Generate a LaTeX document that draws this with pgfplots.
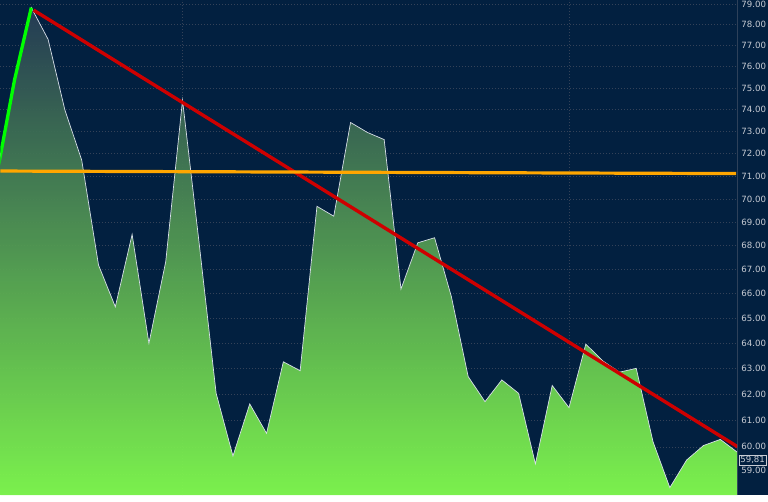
\documentclass[border=0pt]{standalone}
\usepackage{pgfplots}
\pgfplotsset{compat=1.18}
\usepackage{pgfplotstable}
\usepackage{fontspec}
\setmainfont{DejaVu Sans}
\definecolor{navy}{RGB}{2,32,64}
\definecolor{gridgray}{RGB}{52,66,88}
\definecolor{axisgray}{RGB}{70,84,104}
\definecolor{labelgray}{RGB}{200,204,212}
\definecolor{areatop}{RGB}{38,60,86}
\definecolor{areamid}{RGB}{96,142,108}
\definecolor{areabot}{RGB}{130,252,78}
\definecolor{edgewhite}{RGB}{215,222,232}
\definecolor{trendgreen}{RGB}{0,255,0}
\definecolor{trendred}{RGB}{206,0,0}
\definecolor{trendorange}{RGB}{255,166,0}
\pgfplotstableread{
x y
0 71.26
1 75.36
2 78.85
3 77.29
4 73.97
5 71.71
6 67.18
7 65.46
8 68.47
9 63.99
10 67.32
11 74.43
12 68.02
13 62.03
14 59.66
15 61.62
16 60.51
17 63.26
18 62.91
19 69.68
20 69.25
21 73.40
22 72.95
23 72.63
24 66.18
25 68.11
26 68.33
27 65.87
28 62.68
29 61.71
30 62.55
31 62.03
32 59.37
33 62.33
34 61.48
35 63.96
36 63.30
37 62.85
38 63.00
39 60.19
40 58.50
41 59.51
42 60.05
43 60.28
44 59.81
}\pricedata
\pgfplotstableread{
x y
0 71.26
1 75.36
2 78.85
}\greendata
\begin{document}
\begin{tikzpicture}
\fill[navy] (0,0) rectangle (768pt,495pt);
\begin{axis}[
  at={(0pt,0pt)}, anchor=south west,
  scale only axis, width=737.7pt, height=495pt,
  ymode=log,
  xmin=0.155, xmax=44.04, ymin=58.23, ymax=79.2,
  axis line style={draw=none},
  axis background/.style={fill=navy},
  xtick={11,34}, xticklabels={},
  ytick={60,61,62,63,64,65,66,67,68,69,70,71,72,73,74,75,76,77,78,79},
  yticklabels={60.00,61.00,62.00,63.00,64.00,65.00,66.00,67.00,68.00,69.00,70.00,71.00,72.00,73.00,74.00,75.00,76.00,77.00,78.00,79.00},
  extra y ticks={59},
  extra y tick labels={59.00},
  extra y tick style={grid=major, yticklabel style={yshift=4pt}},
  yticklabel pos=right,
  yticklabel style={font=\fontsize{8.6}{9}\selectfont, text=labelgray, anchor=west, inner sep=0pt, xshift=3.5pt},
  major tick length=0pt,
  grid=major,
  major grid style={draw=gridgray, line width=0.6pt, dash pattern=on 1.2pt off 1.8pt},
  clip=true,
]
\addplot[draw=none, top color=areatop, middle color=areamid, bottom color=areabot, fill opacity=0.95]
  table[x=x, y=y] {\pricedata} |- (rel axis cs:0,0) -- cycle;
\addplot[edgewhite, line width=0.7pt] table[x=x, y=y] {\pricedata};
\addplot[trendgreen, line width=3.3pt] table[x=x, y=y] {\greendata};
\addplot[trendred, line width=3.4pt] coordinates {(2.14,78.72) (44.04,60.0)};
\addplot[trendorange, line width=3.2pt] coordinates {(0.155,71.22) (43.95,71.11)};
\draw[axisgray, line width=0.8pt] (rel axis cs:1,0) -- (rel axis cs:1,1);
\end{axis}
\node[draw=labelgray, line width=0.6pt, fill=navy, text=labelgray, font=\fontsize{8.6}{9}\selectfont, inner sep=1pt, anchor=west] at (739pt,35pt) {59,81};
\end{tikzpicture}
\end{document}
